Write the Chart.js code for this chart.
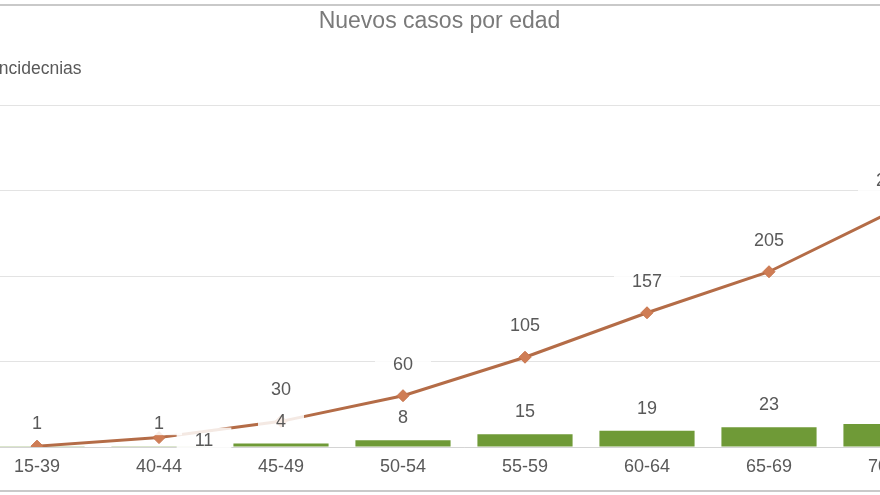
<!DOCTYPE html>
<html>
<head>
<meta charset="utf-8">
<script src="https://cdn.jsdelivr.net/npm/chart.js@4.4.1/dist/chart.umd.min.js"></script>
<style>
  html, body { margin: 0; padding: 0; background: #ffffff; width: 880px; height: 495px; overflow: hidden; }
  #frame { position: absolute; left: -20px; width: 920px; top: 4px; height: 484px;
           border-top: 2px solid #c9c9c9; border-bottom: 2px solid #c9c9c9; }
  #c { position: absolute; left: -100px; top: 0; }
</style>
</head>
<body>
<div id="frame"></div>
<canvas id="c" width="1080" height="495"></canvas>
<script>
// ---- data ----
const categories = ['15-39', '40-44', '45-49', '50-54', '55-59', '60-64', '65-69', '70-74'];
const nuevosCasos = [1, 1, 4, 8, 15, 19, 23, 27];          // bars
const incidencias = [1, 11, 30, 60, 105, 157, 205, 275];   // line
const yTicks = [0, 100, 200, 300, 400];

const chartTitle = 'Nuevos casos por edad';
const axisTitle = 'Incidecnias';

const textColor = '#595959';
const fontFamily = '"Liberation Sans", Arial, sans-serif';

const labelPlugin = {
  id: 'labelsAndTitles',
  afterDatasetsDraw(chart) {
    const ctx = chart.ctx;
    ctx.save();
    // titles
    ctx.fillStyle = '#7a7a7a';
    ctx.font = '23px ' + fontFamily;
    ctx.textAlign = 'center';
    ctx.textBaseline = 'alphabetic';
    ctx.fillText(chartTitle, 539.5, 28);
    ctx.fillStyle = textColor;
    ctx.font = '17.5px ' + fontFamily;
    ctx.textAlign = 'left';
    ctx.fillText(axisTitle, 94, 74);

    // data labels
    ctx.font = '18px ' + fontFamily;
    const barMeta = chart.getDatasetMeta(0);
    const lineMeta = chart.getDatasetMeta(1);
    const boxes = [];
    const mk = (text, x, y) => {
      const w = ctx.measureText(text).width + 36;
      return { text, x, y, w, h: 24 };
    };
    const overlap = (a, b) => Math.abs(a.x - b.x) < (a.w + b.w) / 2 && Math.abs(a.y - b.y) < (a.h + b.h) / 2;
    barMeta.data.forEach((el, i) => {
      boxes.push(mk(String(nuevosCasos[i]), el.x, el.y - 23));
    });
    lineMeta.data.forEach((el, i) => {
      let b = mk(String(incidencias[i]), el.x, el.y - 32);
      const bb = boxes[i];
      if (overlap(b, bb)) {
        if (incidencias[i] === nuevosCasos[i]) return;
        b = mk(String(incidencias[i]), el.x + 45, el.y + 2);
      }
      boxes.push(b);
    });
    boxes.forEach(b => {
      ctx.fillStyle = 'rgba(255,255,255,0.85)';
      ctx.fillRect(b.x - b.w / 2, b.y - b.h / 2, b.w, b.h);
    });
    ctx.fillStyle = textColor;
    ctx.textAlign = 'center';
    ctx.textBaseline = 'middle';
    boxes.forEach(b => ctx.fillText(b.text, b.x, b.y + 1));
    ctx.restore();
  }
};

new Chart(document.getElementById('c'), {
  type: 'bar',
  data: {
    labels: categories,
    datasets: [
      {
        type: 'bar',
        label: 'Nuevos casos',
        data: nuevosCasos,
        backgroundColor: '#6f9a37',
        categoryPercentage: 1,
        barPercentage: 0.78,
        order: 2
      },
      {
        type: 'line',
        label: 'Incidencias',
        data: incidencias,
        borderColor: '#b46c47',
        borderWidth: 3,
        tension: 0,
        pointStyle: 'rectRot',
        pointRadius: 6,
        pointBackgroundColor: '#cf7d55',
        pointBorderColor: '#c7744c',
        pointBorderWidth: 1,
        order: 1
      }
    ]
  },
  options: {
    responsive: false,
    animation: false,
    devicePixelRatio: 1,
    layout: { padding: { left: 76, right: 28, top: 105, bottom: 0 } },
    plugins: {
      legend: { display: false },
      title: { display: false },
      tooltip: { enabled: false }
    },
    scales: {
      x: {
        grid: { display: false, drawTicks: false },
        border: { display: true, color: '#d4d4d4', width: 1 },
        ticks: { color: textColor, font: { family: fontFamily, size: 18 }, padding: 9 },
        afterFit(scale) { scale.height = 48; }
      },
      y: {
        min: 0,
        max: yTicks[yTicks.length - 1],
        afterBuildTicks(scale) { scale.ticks = yTicks.map(v => ({ value: v })); },
        grid: { color: '#e3e3e3', lineWidth: 1, drawTicks: false },
        border: { display: false },
        ticks: { display: false },
        afterFit(scale) { scale.width = 0; }
      }
    }
  },
  plugins: [labelPlugin]
});
</script>
</body>
</html>
